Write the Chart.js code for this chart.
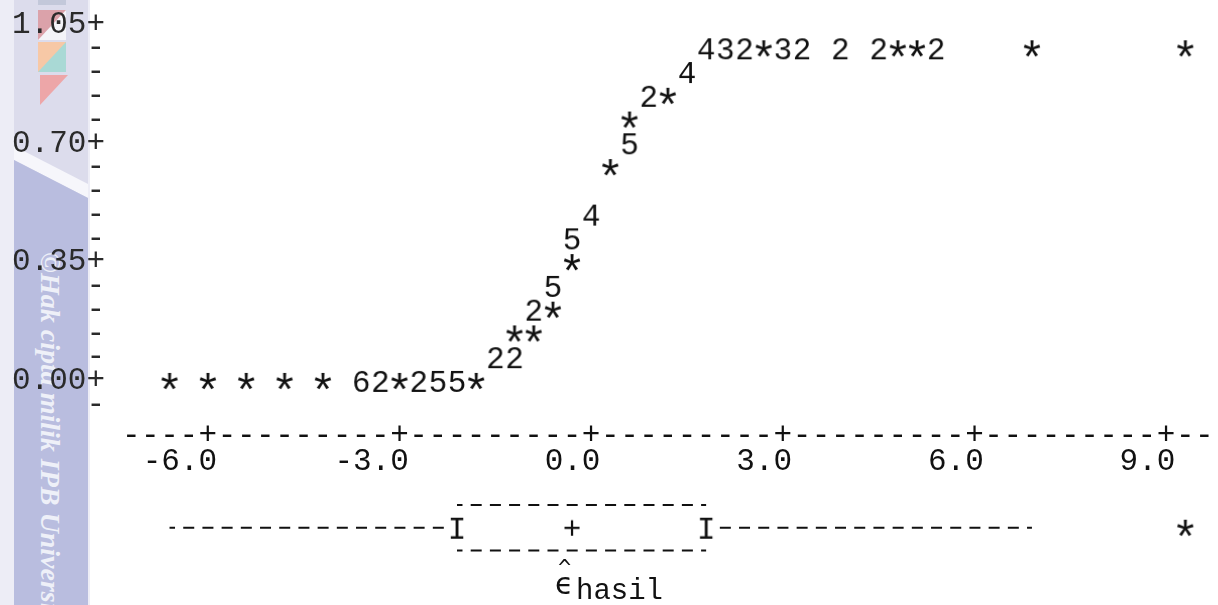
<!DOCTYPE html>
<html>
<head>
<meta charset="utf-8">
<script src="https://cdn.jsdelivr.net/npm/chart.js@4.4.1/dist/chart.umd.min.js"></script>
<style>
  html, body { margin: 0; padding: 0; background: #fff; }
  #page { position: relative; width: 1218px; height: 605px; overflow: hidden; }

  /* scanned-page watermark strip on the left */
  .strip { position: absolute; left: 0; top: 0; width: 90px; height: 605px; background: #ededf6; }
  .strip-inner { position: absolute; left: 14px; top: 0; width: 74px; height: 605px; background: #dcdcec; }
  .strip-line { position: absolute; left: 14px; top: 0; width: 74px; height: 605px; background: #f6f6fb;
    clip-path: polygon(0 146px, 100% 184px, 100% 198px, 0 160px); }
  .strip-band { position: absolute; left: 14px; top: 0; width: 74px; height: 605px; background: #b9bddf;
    clip-path: polygon(0 160px, 100% 198px, 100% 100%, 0 100%); }
  .logo { position: absolute; width: 28px; height: 30px; }
  .wm { position: absolute; left: 65px; top: 252px; transform-origin: 0 0; transform: rotate(90deg);
    white-space: nowrap; font: italic bold 28px 'Liberation Serif', serif; color: #eef0f8; line-height: 30px; }

  canvas { position: absolute; left: 0; top: 0; }
  .xt { position: absolute; color: #111; white-space: nowrap; line-height: 1; }
  .xt-eps { left: 555px; top: 566px; font: 30px 'DejaVu Sans', sans-serif; }
  .xt-hat { left: 558px; top: 555px; font: 22px 'DejaVu Sans Mono', monospace; }
  .xt-sub { left: 576px; top: 575px; font: 29px 'Liberation Mono', monospace; }
</style>
</head>
<body>
<div id="page">
  <div class="strip"></div>
  <div class="strip-inner"></div>
  <div class="strip-line"></div>
  <div class="strip-band"></div>
  <div class="logo" style="left:38px; top:-4px; height:9px; background:#c3c8da;"></div>
  <div class="logo" style="left:38px; top:10px; background:#f4f4f8;"></div>
  <div class="logo" style="left:38px; top:10px; background:#dba2aa; clip-path:polygon(0 0,100% 0,0 100%);"></div>
  <div class="logo" style="left:38px; top:42px; background:#a9d9d5;"></div>
  <div class="logo" style="left:38px; top:42px; background:#f7c8a6; clip-path:polygon(0 0,100% 0,0 100%);"></div>
  <div class="logo" style="left:40px; top:75px; background:#eda6a8; clip-path:polygon(0 0,100% 0,0 100%);"></div>
  <div class="wm">©Hak cipta milik IPB University</div>

  <canvas id="plot" width="1218" height="605"></canvas>

  <!-- axis name: epsilon hat, subscript "hasil" -->
  <div class="xt xt-eps">ϵ</div>
  <div class="xt xt-hat">^</div>
  <div class="xt xt-sub">hasil</div>
</div>

<script>
// character plot of the residuals (ê hasil) with a character boxplot below

// ---------- data ----------

// residual value of each plotted symbol
const residualX = [
  -6.6, -6.0, -5.4, -4.8, -4.2, -3.6, -3.3, -3.0, -2.7, -2.4, -2.1, -1.8,
  -1.5, -1.2,
  -1.2, -0.9,
  -0.9, -0.6,
  -0.6,
  -0.3,
  -0.3,
  0.0,
  0.3,
  0.6,
  0.6,
  0.9, 1.2,
  1.5,
  1.8, 2.1, 2.4, 2.7, 3.0, 3.3, 3.9, 4.5, 4.8, 5.1, 5.4, 6.9, 9.3
];
// cumulative proportion (vertical axis) of each symbol
const cumProp = [
  0, 0, 0, 0, 0, 0, 0, 0, 0, 0, 0, 0,
  0.07, 0.07,
  0.14, 0.14,
  0.21, 0.21,
  0.28,
  0.35,
  0.42,
  0.49,
  0.63,
  0.70,
  0.77,
  0.84, 0.84,
  0.91,
  0.98, 0.98, 0.98, 0.98, 0.98, 0.98, 0.98, 0.98, 0.98, 0.98, 0.98, 0.98, 0.98
];
// symbol printed at each point (* = one obs, digit = count)
const plotSymbol = [
  '*', '*', '*', '*', '*', '6', '2', '*', '2', '5', '5', '*',
  '2', '2',
  '*', '*',
  '2', '*',
  '5',
  '*',
  '5',
  '4',
  '*',
  '5',
  '*',
  '2', '*',
  '4',
  '4', '3', '2', '*', '3', '2', '2', '2', '*', '*', '2', '*', '*'
];

// boxplot: whisker low, Q1, median, Q3, whisker high
const boxFive = [-6.6, -2.1, -0.3, 1.8, 6.9];
const boxOutliers = [9.3];

// tick labels
const xTickValues = [-6, -3, 0, 3, 6, 9];
const xTickLabels = ['-6.0', '-3.0', '0.0', '3.0', '6.0', '9.0'];
const yMajorValues = [0, 0.35, 0.70, 1.05];
const yMajorLabels = ['0.00', '0.35', '0.70', '1.05'];
const yMinorValues = [-0.07, 0.07, 0.14, 0.21, 0.28, 0.42, 0.49, 0.56, 0.63, 0.77, 0.84, 0.91, 0.98];

// ---------- layout / style ----------

const INK = '#111';
const LABEL_INK = '#2a2a2a';
const FONT = "'Liberation Mono', 'DejaVu Sans Mono', monospace";
const FONT_SIZE = 31;
const STAR_SIZE = 46;         // the printer asterisk is much bigger than the font's
const COL = 0.3;              // one printer column on the x scale
const X_MIN = -7.25, X_MAX = 9.75;
const Y_MIN = -0.6483, Y_MAX = 1.1104;
const AXIS_Y = -0.158;        // where the dashed x axis sits
const DASH = [11, 8.2];

// glyph images used as point styles
const glyphCache = {};
function glyph(ch) {
  if (glyphCache[ch]) return glyphCache[ch];
  const c = document.createElement('canvas');
  c.width = 24;
  c.height = 30;
  const g = c.getContext('2d');
  if (ch === 'I') {
    // hide the whisker dash under the hinge mark
    g.fillStyle = '#fff';
    g.fillRect(4, 3, 16, 24);
  }
  g.font = (ch === '*' ? STAR_SIZE : FONT_SIZE) + 'px ' + FONT;
  g.fillStyle = INK;
  g.textAlign = 'center';
  g.textBaseline = 'alphabetic';
  const m = g.measureText(ch);
  g.fillText(ch, c.width / 2, c.height / 2 + (m.actualBoundingBoxAscent - m.actualBoundingBoxDescent) / 2);
  glyphCache[ch] = c;
  return c;
}

function near(a, b) {
  return Math.abs(a - b) < 1e-6;
}

// axis boxes should not eat into the plotting area
function noPadding(scale) {
  scale.paddingTop = 0;
  scale.paddingBottom = 0;
  scale.paddingLeft = 0;
  scale.paddingRight = 0;
}

const tickFont = { family: FONT, size: FONT_SIZE };

// ---------- datasets ----------

const symbolPoints = residualX.map((x, i) => ({ x: x, y: cumProp[i] }));

const boxSymbols = ['I', '+', 'I'].concat(boxOutliers.map(() => '*'));
const boxPoints = [boxFive[1], boxFive[2], boxFive[3]].concat(boxOutliers).map((x) => ({ x: x, y: 0 }));

function dashedLine(x1, x2, row) {
  return {
    data: [{ x: x1, y: row }, { x: x2, y: row }],
    yAxisID: 'yb',
    showLine: true,
    borderColor: INK,
    borderWidth: 2,
    borderDash: DASH,
    borderDashOffset: DASH[0] / 2,
    pointRadius: 0,
    order: 1
  };
}

// glyph points: tiny radius so they do not widen the layout padding
const glyphPointOpts = {
  pointRadius: 0.2,
  pointBorderWidth: 0,
  order: 0
};

const canvas = document.getElementById('plot');

new Chart(canvas, {
  type: 'scatter',
  data: {
    datasets: [
      Object.assign({
        label: 'ê hasil',
        data: symbolPoints,
        yAxisID: 'y',
        pointStyle: (ctx) => glyph(plotSymbol[ctx.dataIndex])
      }, glyphPointOpts),
      Object.assign({
        label: 'boxplot',
        data: boxPoints,
        yAxisID: 'yb',
        pointStyle: (ctx) => glyph(boxSymbols[ctx.dataIndex])
      }, glyphPointOpts),
      dashedLine(boxFive[0], boxFive[1], 0),
      dashedLine(boxFive[3], boxFive[4], 0),
      dashedLine(boxFive[1], boxFive[3], 1),
      dashedLine(boxFive[1], boxFive[3], -1)
    ]
  },
  options: {
    responsive: false,
    animation: false,
    events: [],
    devicePixelRatio: 1,
    layout: { padding: { left: 0, right: 1, top: 1, bottom: 1 } },
    plugins: {
      legend: { display: false },
      tooltip: { enabled: false }
    },
    scales: {
      // the dashed printer axis: '-' on every column, '+' at the labelled values
      x: {
        type: 'linear',
        axis: 'x',
        min: X_MIN,
        max: X_MAX,
        position: { y: AXIS_Y },
        afterBuildTicks: (scale) => {
          const ticks = [];
          const start = Math.ceil((X_MIN - xTickValues[0]) / COL);
          for (let k = start; xTickValues[0] + k * COL <= X_MAX; k++) {
            ticks.push({ value: xTickValues[0] + k * COL });
          }
          scale.ticks = ticks;
        },
        afterFit: (scale) => {
          scale.height = 0;
          noPadding(scale);
        },
        grid: { display: false, drawTicks: false },
        border: { display: false },
        ticks: {
          autoSkip: false,
          maxRotation: 0,
          minRotation: 0,
          padding: -FONT_SIZE * 0.6 + 1,
          font: tickFont,
          color: INK,
          callback: (v) => (xTickValues.some((t) => near(t, v)) ? '+' : '-')
        }
      },
      // numbers under the axis
      x2: {
        type: 'linear',
        axis: 'x',
        min: X_MIN,
        max: X_MAX,
        position: { y: AXIS_Y },
        afterBuildTicks: (scale) => {
          scale.ticks = xTickValues.map((v) => ({ value: v }));
        },
        afterFit: (scale) => {
          scale.height = 0;
          noPadding(scale);
        },
        grid: { display: false, drawTicks: false },
        border: { display: false },
        ticks: {
          autoSkip: false,
          maxRotation: 0,
          minRotation: 0,
          align: 'end',
          labelOffset: FONT_SIZE * 0.3,
          padding: 9,
          font: tickFont,
          color: INK,
          callback: (v, i) => xTickLabels[i]
        }
      },
      y: {
        type: 'linear',
        position: 'left',
        min: Y_MIN,
        max: Y_MAX,
        afterBuildTicks: (scale) => {
          scale.ticks = yMajorValues.concat(yMinorValues)
            .sort((a, b) => a - b)
            .map((v) => ({ value: v }));
        },
        afterFit: (scale) => {
          scale.width = 128;
          noPadding(scale);
        },
        grid: { display: false, drawTicks: false },
        border: { display: false },
        ticks: {
          autoSkip: false,
          padding: 23,
          font: tickFont,
          color: LABEL_INK,
          callback: (v) => {
            const i = yMajorValues.findIndex((m) => near(m, v));
            return i >= 0 ? yMajorLabels[i] + '+' : '-';
          }
        }
      },
      // rows of the character boxplot: 1 = box top, 0 = middle, -1 = box bottom
      yb: {
        type: 'linear',
        axis: 'y',
        display: false,
        min: -3.217,
        max: 23.0,
        ticks: { display: false },
        afterFit: noPadding
      }
    }
  }
});
</script>
</body>
</html>
